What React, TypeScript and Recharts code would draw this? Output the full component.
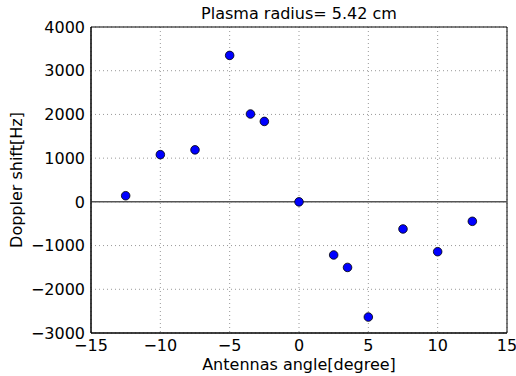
import React from "react";
import {
  ScatterChart,
  Scatter,
  XAxis,
  YAxis,
  CartesianGrid,
  ReferenceLine,
  ReferenceArea,
} from "recharts";

const angles = [-12.5, -10, -7.5, -5, -3.5, -2.5, 0, 2.5, 3.5, 5, 7.5, 10, 12.5];
const shifts = [140, 1080, 1190, 3350, 2010, 1840, 0, -1215, -1500, -2635, -620, -1140, -445];
const xTicks = [-15, -10, -5, 0, 5, 10, 15];
const yTicks = [-3000, -2000, -1000, 0, 1000, 2000, 3000, 4000];

const points = angles.map((a, i) => ({ angle: a, shift: shifts[i] }));

const font = "'DejaVu Sans', sans-serif";
const fmt = (v: number) => String(v).replace("-", "\u2212");

export default function App() {
  return (
    <div style={{ position: "absolute", left: 0, top: 0, width: 516, height: 376, background: "#fff", fontFamily: font }}>
      <div
        style={{
          position: "absolute",
          left: 91,
          width: 416,
          top: 4,
          textAlign: "center",
          fontSize: 16,
          color: "#000",
        }}
      >
        Plasma radius= 5.42 cm
      </div>
      <div
        style={{
          position: "absolute",
          left: 91,
          width: 416,
          top: 355,
          textAlign: "center",
          fontSize: 16,
          color: "#000",
        }}
      >
        Antennas angle[degree]
      </div>
      <div
        style={{
          position: "absolute",
          left: 17 - 100,
          top: 180 - 10,
          width: 200,
          height: 20,
          lineHeight: "20px",
          textAlign: "center",
          fontSize: 16,
          color: "#000",
          transform: "rotate(-90deg)",
        }}
      >
        Doppler shift[Hz]
      </div>
      <ScatterChart width={516} height={376} margin={{ top: 27, right: 9, bottom: 13, left: 0 }}>
        <CartesianGrid stroke="#999" strokeDasharray="1 3" />
        <XAxis
          type="number"
          dataKey="angle"
          domain={[-15, 15]}
          ticks={xTicks}
          tickFormatter={fmt}
          height={30}
          tickLine={false}
          tickSize={6}
          tickMargin={1}
          stroke="#000"
          tick={{ fill: "#000", fontSize: 16, fontFamily: font }}
        />
        <YAxis
          type="number"
          dataKey="shift"
          domain={[-3000, 4000]}
          ticks={yTicks}
          tickFormatter={fmt}
          width={91}
          tickLine={false}
          tickSize={6}
          tickMargin={0}
          stroke="#000"
          tick={{ fill: "#000", fontSize: 16, fontFamily: font }}
        />
        <ReferenceLine y={0} stroke="#555" strokeWidth={1.5} />
        <ReferenceArea x1={-15} x2={15} y1={-3000} y2={4000} fill="none" stroke="#000" strokeWidth={1} />
        <Scatter
          data={points}
          fill="#0000ff"
          stroke="#000"
          strokeWidth={0.8}
          isAnimationActive={false}
          shape={(p: any) => <circle cx={p.cx} cy={p.cy} r={4.3} fill="#0000ff" stroke="#000" strokeWidth={0.8} />}
        />
      </ScatterChart>
    </div>
  );
}
